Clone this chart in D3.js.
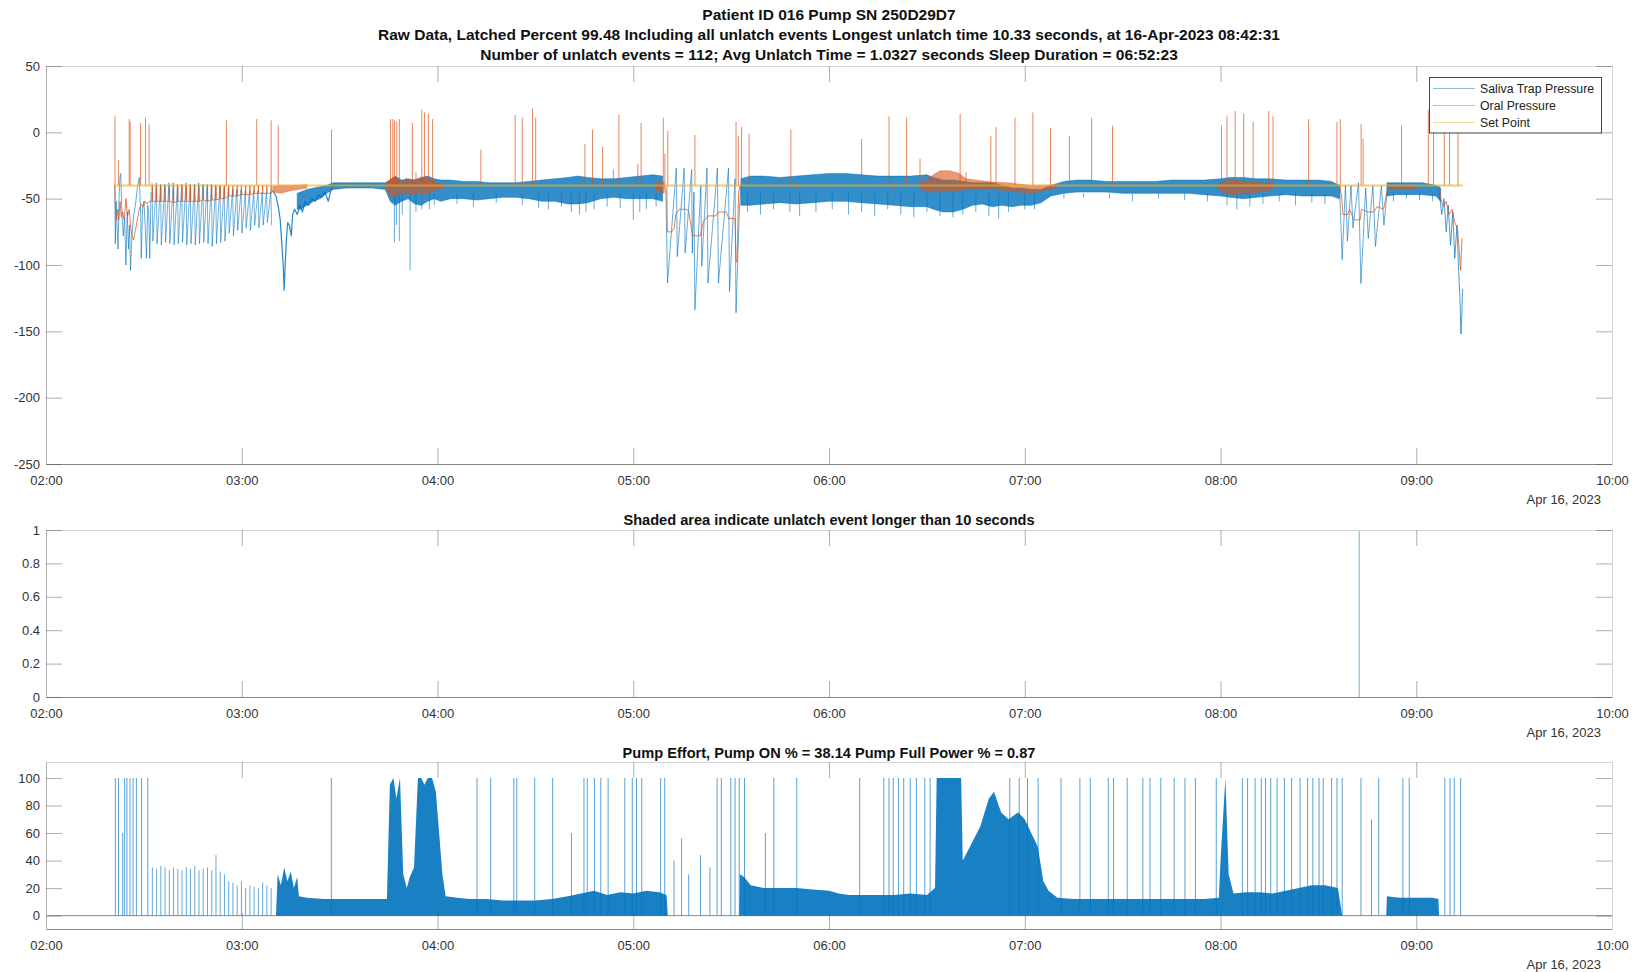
<!DOCTYPE html>
<html><head><meta charset="utf-8">
<script src="https://cdn.jsdelivr.net/npm/d3@7"></script>
<style>
html,body{margin:0;padding:0;background:#fff;}
svg{display:block;font-family:"Liberation Sans",Arial,Helvetica,sans-serif;}
</style></head><body>
<svg id="chart" width="1644" height="972"></svg>
<script>
// ---- time base: values are minutes after 02:00 on 16-Apr-2023 ----
const T0 = new Date(2023, 3, 16, 2, 0, 0);
const T1 = new Date(2023, 3, 16, 10, 0, 0);
const at = m => new Date(T0.getTime() + m * 60000);

const titleLines = [
  "Patient ID 016  Pump SN 250D29D7",
  "Raw Data, Latched Percent 99.48 Including all unlatch events Longest unlatch time 10.33 seconds, at 16-Apr-2023 08:42:31",
  "Number of unlatch events = 112; Avg Unlatch Time = 1.0327 seconds Sleep Duration = 06:52:23"
];
const unlatchTitle = "Shaded area indicate unlatch event longer than 10 seconds";
const effortTitle = "Pump Effort, Pump ON % = 38.14 Pump Full Power % = 0.87";
const dateLabel = "Apr 16, 2023";
const seriesNames = ["Saliva Trap Pressure", "Oral Pressure", "Set Point"];
const pressureTicks = [50, 0, -50, -100, -150, -200, -250];
const unlatchTicks = [0, 0.2, 0.4, 0.6, 0.8, 1];
const effortTicks = [0, 20, 40, 60, 80, 100];

// ---- Saliva trap pressure ----
// unsettled start, 02:21-02:32  [min, value]
const salivaStart = [[21.1,-40],[21.25,-84],[21.5,-52],[21.8,-72],[22.1,-88],[22.4,-48],[22.7,-33],[22.9,-31],[23.3,-62],[23.7,-78],[24.1,-64],[24.5,-100],[24.9,-60],[25.3,-88],[25.6,-70],[25.9,-104],[26.3,-80],[26.8,-64],[27.4,-55],[28.0,-42],[28.6,-34],[29.0,-60],[29.2,-95],[29.6,-58],[30.0,-52],[30.4,-70],[30.8,-95],[31.2,-55],[31.5,-60],[31.8,-95],[32.2,-45]];
// breathing pulses 02:32-03:10  [min, saliva top, saliva trough, oral low]
const pulses = [[32.6,-38,-82,-52],[33.9,-38,-84,-52],[35.2,-39,-85,-52],[36.5,-39,-83,-52],[37.8,-38,-84,-52],[39.1,-38,-85,-53],[40.4,-39,-84,-52],[41.7,-39,-83,-52],[43.0,-38,-85,-52],[44.3,-39,-84,-52],[45.6,-39,-85,-52],[46.9,-38,-84,-52],[48.2,-39,-83,-51],[49.5,-39,-84,-52],[50.8,-39,-86,-51],[52.1,-40,-84,-51],[53.4,-40,-83,-50],[54.7,-41,-82,-50],[56.0,-42,-76,-48],[57.3,-43,-78,-48],[58.6,-43,-74,-48],[59.9,-43,-76,-47],[61.2,-44,-72,-47],[62.5,-44,-74,-47],[63.8,-44,-70,-46],[65.1,-44,-72,-46],[66.4,-45,-70,-46],[67.7,-45,-68,-46],[69.0,-45,-70,-46]];
// deep drop near 03:13
const salivaDip = [[69.5,-44],[70.5,-48],[71.2,-56],[71.8,-66],[72.3,-85],[72.7,-100],[73.0,-119],[73.3,-100],[73.7,-80],[74.1,-68],[74.6,-70],[75.2,-78],[75.6,-62],[76.2,-58],[77,-62],[77.8,-55],[78.6,-60],[79.4,-52],[80.5,-55],[81.5,-50],[82.5,-52],[83.5,-47],[84.5,-49],[85.5,-45],[86.5,-52],[87.3,-44],[88,-40]];
// dense trace envelope  [min, upper, lower]
const salivaBand = [
  [77,-46,-58],[78,-45,-58],[80,-43,-55],[82,-42,-52],[84,-41,-50],[86,-40,-46],[88,-38,-43],[92,-38,-42],[96,-38,-42],[100,-38,-42],[104,-38,-43],
  [105.5,-36,-52],[107,-33,-55],[109,-36,-52],[111,-35,-50],[113,-36,-54],[115,-34,-55],[117,-33,-52],[119,-35,-50],[121,-36,-52],
  [124,-36,-50],[128,-37,-50],[132,-37,-51],[136,-38,-50],[140,-38,-49],[144,-38,-49],[148,-37,-50],[152,-36,-52],[156,-35,-52],[160,-34,-54],[163,-33,-54],[166,-34,-53],[170,-35,-50],[174,-35,-49],[178,-34,-50],[182,-33,-50],[186,-32,-50],[189,-33,-52],
  [213,-35,-55],[216,-33,-55],[220,-33,-54],[225,-34,-53],[230,-33,-54],[235,-32,-53],[240,-31,-52],[245,-31,-52],[250,-32,-53],[255,-33,-54],[260,-33,-55],[265,-33,-56],[270,-32,-56],
  [272,-34,-58],[275,-36,-60],[278,-36,-60],[281,-37,-58],[284,-38,-55],[287,-38,-54],[290,-38,-56],[293,-40,-55],[296,-42,-56],[299,-42,-55],[302,-43,-55],[305,-43,-53],
  [308,-40,-48],[312,-37,-46],[316,-36,-45],[320,-36,-45],[325,-37,-45],[330,-37,-46],[335,-37,-46],[340,-37,-46],[345,-36,-46],[350,-36,-46],[355,-36,-47],[360,-35,-48],
  [363,-34,-49],[367,-34,-50],[371,-35,-49],[375,-35,-48],[380,-36,-47],[385,-36,-48],[390,-36,-48],[394,-37,-48],[396.5,-40,-50],
  [411,-38,-48],[414,-38,-47],[418,-38,-47],[422,-38,-47],[426,-40,-48],[427.5,-42,-52]
];
// short downward excursions out of the dense trace  [min, value]
const salivaDrops = [[106.8,-83],[107.4,-70],[108.3,-82],[109.2,-62],[111.6,-104],[113.4,-60],[115.2,-58],[117.5,-58],[119,-55],
  [126,-54],[131,-56],[138,-53],[146,-55],[151,-57],[154,-58],[158,-56],[161,-60],[163.5,-62],[165.5,-60],[168,-58],[172,-56],[176,-57],[180,-66],[182,-60],[184,-58],[187,-56],
  [215,-60],[219,-62],[223,-58],[228,-60],[231,-63],[236,-60],[241,-58],[246,-62],[250,-60],[254,-63],[258,-58],[262,-62],[266,-64],[270,-60],
  [274,-63],[278,-64],[281,-62],[285,-60],[289,-63],[292,-65],[295,-60],[300,-58],[303,-58],
  [312,-50],[318,-49],[326,-50],[333,-52],[341,-50],[349,-51],[356,-52],
  [362,-55],[365,-58],[369,-56],[373,-54],[378,-52],[383,-55],[388,-53],[392,-54],
  [413,-52],[417,-50],[421,-51],[425,-52]];
// large sawtooth 05:09-05:33
const salivaSaw = [[189.5,-40],[190.0,-45],[190.5,-113.6],[193.2,-27],[193.5,-93.6],[195.6,-27],[195.9,-91],[197.9,-28],[198.1,-91],[198.6,-45],[198.9,-133.7],[200.7,-40],[201.0,-101],[202.6,-27],[202.9,-113.6],[205.8,-27],[206.1,-113.6],[209.2,-27],[209.5,-120],[211.2,-35],[211.5,-136],[212.5,-60],[213,-40]];
// 08:36-08:51
const salivaLate = [[396.5,-42],[397.3,-96],[398.3,-40],[398.9,-82],[400,-40],[400.6,-72],[402.3,-38],[403.05,-114],[404.5,-42],[405.3,-80],[406.7,-40],[407.5,-86],[409.3,-40],[410.1,-70],[411.2,-42]];
// final minutes
const salivaEnd = [[427,-44],[427.8,-62],[428.5,-50],[429.2,-75],[429.8,-55],[430.5,-85],[431.2,-60],[431.8,-95],[432.5,-70],[433.0,-105],[433.4,-125],[433.7,-152],[434.0,-135],[434.2,-118]];

// ---- Oral pressure ----
const oralStart = [[21.1,-40],[21.3,-62],[21.6,-66],[22.0,-58],[22.3,-66],[22.7,-52],[23.1,-64],[23.5,-60],[24.0,-66],[24.5,-50],[25.0,-63],[25.5,-58],[25.9,-70],[26.3,-78],[26.8,-81],[27.4,-74],[28.0,-66],[28.6,-58],[29.2,-54],[29.8,-56],[30.4,-52],[31.0,-54],[31.6,-52],[32.3,-52]];
const oralBand = [
  [69.5,-41,-45],[72,-40,-46],[75,-40,-44],[80,-39.5,-42],[88,-39.5,-41],[104,-39.5,-41],[105,-36,-47],[106.5,-34,-49],[108,-36,-47],[110,-37,-46],[112,-36,-47],[114,-35,-46],[116,-34,-47],[118,-36,-45],[120,-38,-43],[122,-39.5,-42],[130,-39.5,-41.5],[150,-39.5,-42],[160,-39.5,-42],[170,-39.5,-42],[180,-39,-43],[187,-38,-44],[189.5,-38,-46],
  [213,-39,-43],[220,-39.5,-42],[230,-39.5,-43],[240,-39.5,-42],[250,-39.5,-42],[260,-39,-43],[268,-39,-43],[272,-32,-45],[274,-29,-45],[277,-29,-44],[280,-31,-44],[282,-35,-43],[285,-36,-43],[290,-37.5,-43],[295,-38,-44],[298,-39,-45],[302,-40,-46],[306,-40,-44],[310,-39.5,-41.5],[330,-39.5,-41.5],[359,-39.5,-41.5],[361,-37,-46],[364,-36,-47],[368,-37,-46],[372,-38,-45],[376,-39,-43],[385,-39.5,-42],[396.5,-39.5,-43],
  [411.7,-40,-43],[415,-40,-42.5],[420,-40,-42.5],[426.5,-40,-43]
];
const oralSaw = [[190.3,-40],[190.45,-75],[191.8,-75],[192.6,-72],[193.0,-62],[194.2,-58],[196.4,-58],[197.0,-60],[198.2,-78],[200.6,-78],[201.5,-67],[202.9,-63],[205.3,-63],[206.1,-60],[208.5,-60],[209.3,-65],[211.2,-65],[211.5,-96],[211.8,-98],[212.3,-45],[212.7,-40]];
const oralLate = [[396.6,-40],[397.2,-50],[397.5,-62],[399,-62],[399.5,-58],[401,-66],[402.8,-66],[403.2,-58],[405,-60],[407,-60],[408,-56],[410,-58],[411,-45],[411.7,-40]];
const oralEnd = [[427,-40],[427.5,-50],[428.3,-56],[429.2,-52],[430,-62],[431,-58],[431.8,-68],[432.6,-72],[433.2,-90],[433.6,-104],[434.0,-80]];
// upward oral spikes  [min, peak]
const oralSpikes = [[21.15,12],[22.2,-21],[25.5,10],[25.8,8],[29.0,7],[30.5,11],[31.6,6],[55.3,9],[64.6,10],[69.0,9],[71.2,5],[87.5,2],
  [105.6,10],[106.3,10],[106.8,9],[107.5,8],[108.3,10],[110.4,-34],[112.3,7],[113.4,-30],[115.2,17],[116.0,15],[117.2,14],[118.5,10],
  [133.3,-13],[143.8,13],[146.0,11],[149.1,18],[150.1,11],[165.2,-9],[167.5,2],[170.6,-11],[173.9,-28],[175.6,13],[181.4,-24],[182.4,7],[189.2,11],[189.7,-16],[190.6,1],[198.9,-2],
  [211.5,8],[212.2,-3],[213.2,4],[215.5,-1],[228.3,2],[250.0,-5],[258.4,12],[263.8,11],[267.9,-20],[280.2,14],[282,-30],[289.6,-3],[291.2,4],
  [297,11],[302.5,15],[307.9,3],[313.7,-3],[320.5,11],[326.9,5],
  [360.3,5],[362,12],[364.5,16],[367.1,14],[370,8],[374.8,16],[376.1,12],[387.0,10],[395.7,8],[396.7,10],[403.1,6],[403.7,-5],
  [415.5,5],[423.7,17],[425.3,12],[428.6,10],[430.2,16],[432.8,16]];
const setPoint = [[21.1,-40],[434.2,-40]];

// ---- Unlatch events longer than 10 s ----
const longUnlatch = [[402.517, 10.33]];   // [min, seconds]

// ---- Pump effort (%) ----
const effortComb = [[32.6,35],[33.9,34],[35.2,36],[36.5,35],[37.8,33],[39.1,35],[40.4,34],[41.7,33],[43.0,35],[44.3,34],[45.6,36],[46.9,33],[48.2,34],[49.5,35],[50.8,33],[52.1,44],[53.4,32],[54.7,30],[56.0,25],[57.3,24],[58.6,22],[59.9,25],[61.2,20],[62.5,22],[63.8,21],[65.1,20],[66.4,24],[67.7,22],[69.0,20]];
const effortBand = [
  [70.5,0],[71,30],[72,22],[73,35],[74,25],[75,32],[76,20],[77,28],[77.5,14],[80,13],[85,12],[90,12],[95,12],[100,12],[104.5,12],[105.4,95],[106.5,100],[107.4,85],[108.5,100],[109.5,30],[110.6,20],[111.5,28],[112.8,35],[114,100],[115,100],[116,95],[117,100],[118.3,100],[119.5,90],[120.5,60],[121.5,30],[122.5,14],[126,13],[130,12],[135,12],[140,11],[145,11],[150,11],[155,12],[160,14],[164,16],[168,18],[172,15],[176,17],[180,16],[184,18],[188,17],[190.2,15],[190.6,0],
  [212.5,0],[212.7,30],[214,28],[216,22],[220,20],[225,20],[230,20],[235,19],[240,18],[243,16],[246,15],[250,15],[255,15],[260,15],[265,16],[270,15],[272.5,20],[273,100],[280.5,100],[281,40],[283.2,50],[286.4,65],[289,85],[290.6,90],[292,80],[292.8,75],[295,70],[298,75],[300,70],[302,60],[304,50],[305.7,25],[307.3,18],[310,13],[315,12],[320,12],[325,12],[330,12],[335,12],[340,12],[345,12],[350,12],[355,12],[359.5,13],[360,40],[361.5,100],[362.5,30],[364,16],[368,17],[372,17],[376,16],[380,18],[384,20],[388,22],[392,22],[396,20],[397.3,0],
  [410.8,0],[411,14],[415,13],[420,13],[425,13],[426.8,12],[427,0]
];
const effortSpikes = [[21.25,100],[22.2,100],[23.5,60],[24.1,100],[24.8,100],[25.75,100],[26.7,100],[27.7,100],[29.3,100],[31.2,100],
  [87.46,100],[132.1,100],[136.3,100],[143.4,100],[144.3,100],[149.8,100],[155.3,100],[161.05,60],[164.9,100],[165.9,100],[168.1,100],[170.05,100],[172.3,100],[177.4,100],[179.7,100],[181.0,100],[182.6,100],[188.4,100],[189.65,100],
  [192.5,40],[194.8,56],[197,30],[200.6,44],[203.5,35],[205.7,100],[207.0,100],[209.9,100],[211.2,100],[212.5,100],
  [214.1,100],[220.5,60],[223.1,100],[230.1,100],
  [249.4,100],[256.8,100],[258.4,100],[259.7,100],[261.3,100],[262.9,100],[264.9,100],[266.8,100],[269.35,100],[271.0,100],
  [295.4,100],[298.3,100],[300.85,100],[304.1,100],
  [311.1,100],[316.9,100],[320.1,100],[325.6,100],[327.2,100],[331.4,100],[336.2,100],[338.4,100],[341.7,100],[345.8,100],[349.1,100],[352.3,100],[358.7,100],
  [366.7,100],[368.3,100],[370.6,100],[372.5,100],[373.8,100],[375.4,100],[377.35,100],[379.6,100],[381.8,100],[384.4,100],[386.7,100],[388.3,100],[390.2,100],[391.5,100],[394.05,100],[395.7,100],[397.3,100],
  [403.05,100],[406.3,70],[408.5,100],[415.9,100],[417.85,100],
  [428.75,100],[430.35,100],[431.65,100],[433.6,100]];

// ---- drawing ----
const BLUE = "#0072BD", ORANGE = "#D95319", YELLOW = "#EDB120";
const svg = d3.select("#chart");
const L = 46, R = 1612, TICK = 16;
const x = d3.scaleTime().domain([T0, T1]).range([L, R]);
const fmt = d3.timeFormat("%H:%M");

const panels = {
  pressure: {top: 66, bottom: 464, domain: [-250, 50], ticks: pressureTicks},
  unlatch: {top: 530, bottom: 697, domain: [0, 1], ticks: unlatchTicks},
  effort: {top: 762, bottom: 929, domain: [-9.7, 111.6], ticks: effortTicks}
};

function frame(key) {
  const p = panels[key];
  const y = d3.scaleLinear().domain(p.domain).range([p.bottom, p.top]);
  const g = svg.append("g");
  g.append("clipPath").attr("id", "clip-" + key).append("rect")
    .attr("x", L).attr("y", p.top).attr("width", R - L).attr("height", p.bottom - p.top);
  const plot = g.append("g").attr("clip-path", `url(#clip-${key})`);
  const axes = svg.append("g").attr("class", "axes");
  const hours = d3.timeHour.range(T0, d3.timeHour.offset(T1, 1));
  const style = sel => {
    sel.selectAll(".tick line").attr("stroke", "#555").attr("stroke-width", 0.8).attr("stroke-opacity", 0.6);
    sel.selectAll("text").attr("font-size", 13).attr("fill", "#333").attr("font-family", '"Liberation Sans",Arial,sans-serif');
  };
  axes.append("g").attr("transform", `translate(0,${p.bottom})`)
    .call(d3.axisBottom(x).tickValues(hours).tickFormat(fmt).tickSize(-TICK).tickSizeOuter(0).tickPadding(12))
    .call(style).call(s => s.select(".domain").attr("stroke", "#8a8a8a"));
  axes.append("g").attr("transform", `translate(0,${p.top})`)
    .call(d3.axisTop(x).tickValues(hours).tickFormat("").tickSize(-TICK).tickSizeOuter(0))
    .call(style).call(s => s.select(".domain").attr("stroke", "#d4d4d4"));
  axes.append("g").attr("transform", `translate(${L},0)`)
    .call(d3.axisLeft(y).tickValues(p.ticks).tickFormat(d => String(d)).tickSize(-TICK).tickSizeOuter(0).tickPadding(6))
    .call(style).call(s => s.select(".domain").attr("stroke", "#b4b4b4"));
  axes.append("g").attr("transform", `translate(${R},0)`)
    .call(d3.axisRight(y).tickValues(p.ticks).tickFormat("").tickSize(-TICK).tickSizeOuter(0))
    .call(style).call(s => s.select(".domain").attr("stroke", "#d4d4d4"));
  axes.append("text").attr("x", 1601).attr("y", p.bottom + 40).attr("text-anchor", "end")
    .attr("font-size", 13).attr("fill", "#333").text(dateLabel);
  return {y, plot, p};
}

const lineOf = y => d3.line().x(d => x(at(d[0]))).y(d => y(d[1]));
function segments(rows, gap) {
  const out = []; let cur = [];
  rows.forEach((r, i) => {
    if (i && r[0] - rows[i - 1][0] > gap) { out.push(cur); cur = []; }
    cur.push(r);
  });
  if (cur.length) out.push(cur);
  return out;
}
function bandArea(plot, y, rows, color, opacity, gap) {
  const area = d3.area().x(d => x(at(d[0]))).y0(d => y(d[2])).y1(d => y(d[1])).curve(d3.curveLinear);
  segments(rows, gap).forEach(seg => plot.append("path").attr("d", area(seg))
    .attr("fill", color).attr("fill-opacity", opacity).attr("stroke", color).attr("stroke-opacity", opacity * 0.6).attr("stroke-width", 1));
}
function trace(plot, y, rows, color, opacity, width) {
  plot.append("path").attr("d", lineOf(y)(rows)).attr("fill", "none")
    .attr("stroke", color).attr("stroke-opacity", opacity).attr("stroke-width", width).attr("stroke-linejoin", "round");
}
function spikes(plot, y, rows, base, color, opacity) {
  plot.append("g").selectAll("line").data(rows).join("line")
    .attr("x1", d => x(at(d[0]))).attr("x2", d => x(at(d[0])))
    .attr("y1", y(base)).attr("y2", d => y(d[1]))
    .attr("stroke", color).attr("stroke-opacity", opacity).attr("stroke-width", 1);
}

// ---- top panel: pressures ----
{
  const {y, plot} = frame("pressure");
  // saliva trap pressure
  trace(plot, y, salivaStart, BLUE, 0.6, 1);
  const pulseBlue = [];
  pulses.forEach(d => { pulseBlue.push([d[0] - 0.1, d[1]]); pulseBlue.push([d[0] + 0.15, d[2]]); });
  trace(plot, y, pulseBlue, BLUE, 0.55, 1);
  bandArea(plot, y, salivaBand, BLUE, 0.8, 6);
  spikes(plot, y, salivaDrops, -46, BLUE, 0.6);
  trace(plot, y, salivaDip, BLUE, 0.85, 1.2);
  trace(plot, y, salivaSaw, BLUE, 0.6, 1);
  trace(plot, y, salivaLate, BLUE, 0.6, 1);
  trace(plot, y, salivaEnd, BLUE, 0.7, 1);
  // oral pressure
  trace(plot, y, oralStart, ORANGE, 0.75, 1);
  const pulseOral = [];
  pulses.forEach(d => { pulseOral.push([d[0] - 0.1, d[3]]); pulseOral.push([d[0], -40]); pulseOral.push([d[0] + 0.1, d[3]]); });
  trace(plot, y, pulseOral, ORANGE, 0.7, 1);
  bandArea(plot, y, oralBand, ORANGE, 0.6, 6);
  trace(plot, y, oralSaw, ORANGE, 0.75, 1);
  trace(plot, y, oralLate, ORANGE, 0.75, 1);
  trace(plot, y, oralEnd, ORANGE, 0.75, 1);
  spikes(plot, y, oralSpikes, -40, ORANGE, 0.7);
  // set point
  trace(plot, y, setPoint, YELLOW, 0.65, 2);

  // legend
  const lg = svg.append("g");
  lg.append("rect").attr("x", 1429.5).attr("y", 77.5).attr("width", 172).attr("height", 55.5)
    .attr("fill", "#fff").attr("stroke", "#444").attr("stroke-width", 1);
  [BLUE, ORANGE, YELLOW].forEach((c, i) => {
    const cy = 88.5 + i * 17;
    lg.append("line").attr("x1", 1433).attr("x2", 1475).attr("y1", cy).attr("y2", cy)
      .attr("stroke", c).attr("stroke-opacity", 0.45).attr("stroke-width", 1.2);
    lg.append("text").attr("x", 1480).attr("y", cy + 4.3).attr("font-size", 12.3).attr("fill", "#222").text(seriesNames[i]);
  });
}

// ---- middle panel: long unlatch events ----
{
  const {y, plot} = frame("unlatch");
  plot.append("g").selectAll("rect").data(longUnlatch).join("rect")
    .attr("x", d => x(at(d[0])) - 0.5)
    .attr("width", d => Math.max(1, x(at(d[0] + d[1] / 60)) - x(at(d[0]))))
    .attr("y", y(1)).attr("height", y(0) - y(1))
    .attr("fill", BLUE).attr("fill-opacity", 0.55);
}

// ---- bottom panel: pump effort ----
{
  const {y, plot} = frame("effort");
  plot.append("line").attr("x1", L).attr("x2", R).attr("y1", y(0)).attr("y2", y(0))
    .attr("stroke", "#8a8a8a").attr("stroke-width", 1);
  const area = d3.area().x(d => x(at(d[0]))).y0(y(0)).y1(d => y(d[1]));
  segments(effortBand, 10).forEach(seg => plot.append("path").attr("d", area(seg))
    .attr("fill", BLUE).attr("fill-opacity", 0.9));
  spikes(plot, y, effortComb, 0, BLUE, 0.6);
  spikes(plot, y, effortSpikes, 0, BLUE, 0.65);
}

// ---- titles ----
const tg = svg.append("g").attr("font-weight", "bold").attr("fill", "#111").attr("text-anchor", "middle");
titleLines.forEach((t, i) => tg.append("text").attr("x", 829).attr("y", 20 + i * 20).attr("font-size", 15.5).text(t));
tg.append("text").attr("x", 829).attr("y", 524.5).attr("font-size", 14.6).text(unlatchTitle);
tg.append("text").attr("x", 829).attr("y", 757.5).attr("font-size", 14.6).text(effortTitle);
</script></body></html>
